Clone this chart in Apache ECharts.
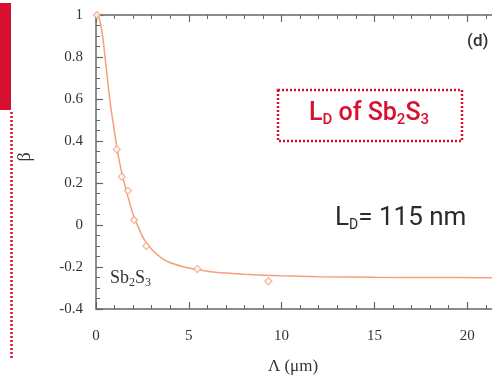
<!DOCTYPE html>
<html>
<head>
<meta charset="utf-8">
<script src="https://cdn.jsdelivr.net/npm/echarts@6/dist/echarts.min.js"></script>
<style>
html,body{margin:0;padding:0;background:#fff;}
#chart{width:492px;height:378px;}
</style>
</head>
<body>
<div id="chart"></div>
<script>
// ---- data ----
const curveX = [0, 0.1, 0.2, 0.3, 0.4, 0.5, 0.6, 0.7, 0.8, 0.9, 1.0, 1.2, 1.4, 1.6, 1.8, 2.0, 2.3, 2.6, 3.0, 3.5, 4, 5, 6, 7, 8, 10, 12, 15, 18, 21, 25];
const curveY = [1.0, 0.995, 0.975, 0.93, 0.87, 0.79, 0.71, 0.63, 0.56, 0.5, 0.44, 0.33, 0.245, 0.175, 0.11, 0.05, -0.015, -0.07, -0.115, -0.155, -0.18, -0.205, -0.22, -0.229, -0.235, -0.242, -0.246, -0.249, -0.25, -0.251, -0.252];
const pointX = [0.04, 1.12, 1.39, 1.72, 2.06, 2.71, 5.46, 9.29];
const pointY = [1.0, 0.36, 0.23, 0.163, 0.024, -0.10, -0.21, -0.268];
const xTicks = [0, 5, 10, 15, 20];
const yTicks = [-0.4, -0.2, 0, 0.2, 0.4, 0.6, 0.8, 1];

const chart = echarts.init(document.getElementById('chart'), null, {renderer: 'canvas'});

const ctx = document.createElement('canvas').getContext('2d');
function measure(t, font) { ctx.font = font; return ctx.measureText(t).width; }

// build text with subscripts from pieces
function subText(x, yTop, pieces, size, subSize, color, family, weight, align) {
  const mainFont = weight + ' ' + size + 'px ' + family;
  const subFont = weight + ' ' + subSize + 'px ' + family;
  let total = 0;
  pieces.forEach(p => { total += measure(p.t, p.sub ? subFont : mainFont); });
  let cx = align === 'center' ? x - total / 2 : x;
  const els = [];
  pieces.forEach(p => {
    const f = p.sub ? subFont : mainFont;
    const w = measure(p.t, f);
    const y = p.sub ? yTop + size * 0.95 - subSize * 0.8 : yTop;
    els.push({type: 'text', silent: true, style: {text: p.t, x: cx, y: y, font: f, fill: color, textAlign: 'left', textVerticalAlign: 'top', align: 'left', verticalAlign: 'top'}});
    cx += w;
  });
  return els;
}

const serif = '"Liberation Serif", "DejaVu Serif", serif';
const sans = 'Roboto, "Noto Sans", sans-serif';
const red = '#d7102f';
const axisColor = '#666';
const curveColor = '#f5a07c';

const graphics = [
  {type: 'rect', silent: true, shape: {x: 0, y: 3, width: 11, height: 107}, style: {fill: red}},
  {type: 'line', silent: true, shape: {x1: 11.5, y1: 112, x2: 11.5, y2: 358}, style: {stroke: red, lineWidth: 2.5, lineDash: [2, 2]}},
  {type: 'rect', silent: true, shape: {x: 278, y: 90, width: 184, height: 51}, style: {fill: 'none', stroke: red, lineWidth: 2.5, lineDash: [2, 2]}},
  {type: 'text', silent: true, style: {text: '(d)', x: 467, y: 42, font: '500 17px ' + sans, fill: '#333', textAlign: 'left', textVerticalAlign: 'middle', align: 'left', verticalAlign: 'middle'}},
  {type: 'text', silent: true, style: {text: 'Λ (μm)', x: 293, y: 367, font: '17px ' + serif, fill: '#333', textAlign: 'center', textVerticalAlign: 'middle', align: 'center', verticalAlign: 'middle'}},
  {type: 'text', silent: true, rotation: Math.PI / 2, x: 25, y: 157, style: {text: 'β', x: 0, y: 0, font: '18px ' + serif, fill: '#333', textAlign: 'center', textVerticalAlign: 'middle', align: 'center', verticalAlign: 'middle'}}
].concat(
  subText(369, 101, [{t: 'L'}, {t: 'D', sub: true}, {t: ' of Sb'}, {t: '2', sub: true}, {t: 'S'}, {t: '3', sub: true}], 25, 15, red, sans, '500', 'center'),
  subText(335, 205, [{t: 'L'}, {t: 'D', sub: true}, {t: '= 115 nm'}], 26, 14, '#2b2b2b', sans, '400', 'left'),
  subText(110, 269, [{t: 'Sb'}, {t: '2', sub: true}, {t: 'S'}, {t: '3', sub: true}], 18, 12, '#333', serif, 'normal', 'left')
);

function xAxisBase(pos, showLabel) {
  return {
    type: 'value', position: pos, min: 0, max: 25, interval: 5,
    axisLine: {show: true, onZero: false, lineStyle: {color: axisColor, width: 1.5}},
    axisTick: {show: true, inside: true, length: 7, lineStyle: {color: axisColor, width: 1.2}},
    minorTick: {show: true, splitNumber: 5, length: 4, lineStyle: {color: axisColor, width: 1}},
    splitLine: {show: false},
    axisLabel: {show: showLabel, margin: 20, fontFamily: serif, fontSize: 15, color: '#333',
      formatter: v => xTicks.indexOf(v) >= 0 ? String(v) : ''}
  };
}

const option = {
  animation: false,
  backgroundColor: '#fff',
  grid: {left: 96, top: 15, width: 464, height: 294, containLabel: false, outerBoundsMode: 'none'},
  xAxis: [xAxisBase('bottom', true), xAxisBase('top', false)],
  yAxis: {
    type: 'value', min: -0.4, max: 1, interval: 0.2,
    axisLine: {show: true, onZero: false, lineStyle: {color: axisColor, width: 1.5}},
    axisTick: {show: true, inside: true, length: 7, lineStyle: {color: axisColor, width: 1.2}},
    minorTick: {show: true, splitNumber: 4, length: 4, lineStyle: {color: axisColor, width: 1}},
    splitLine: {show: false},
    axisLabel: {margin: 13, fontFamily: serif, fontSize: 15, color: '#333',
      formatter: v => {
        const r = Math.round(v * 10) / 10;
        return yTicks.some(t => Math.abs(t - r) < 1e-9) ? String(r) : '';
      }}
  },
  series: [
    {
      type: 'line', xAxisIndex: 0, data: curveX.map((x, i) => [x, curveY[i]]),
      smooth: 0.3, showSymbol: false, lineStyle: {color: curveColor, width: 1.5}, z: 2
    },
    {
      type: 'scatter', xAxisIndex: 0, data: pointX.map((x, i) => [x, pointY[i]]),
      symbol: 'diamond', symbolSize: 7, clip: false,
      itemStyle: {color: '#fff', borderColor: curveColor, borderWidth: 1.2}, z: 3
    }
  ],
  graphic: graphics
};
chart.setOption(option);
</script>
</body>
</html>
